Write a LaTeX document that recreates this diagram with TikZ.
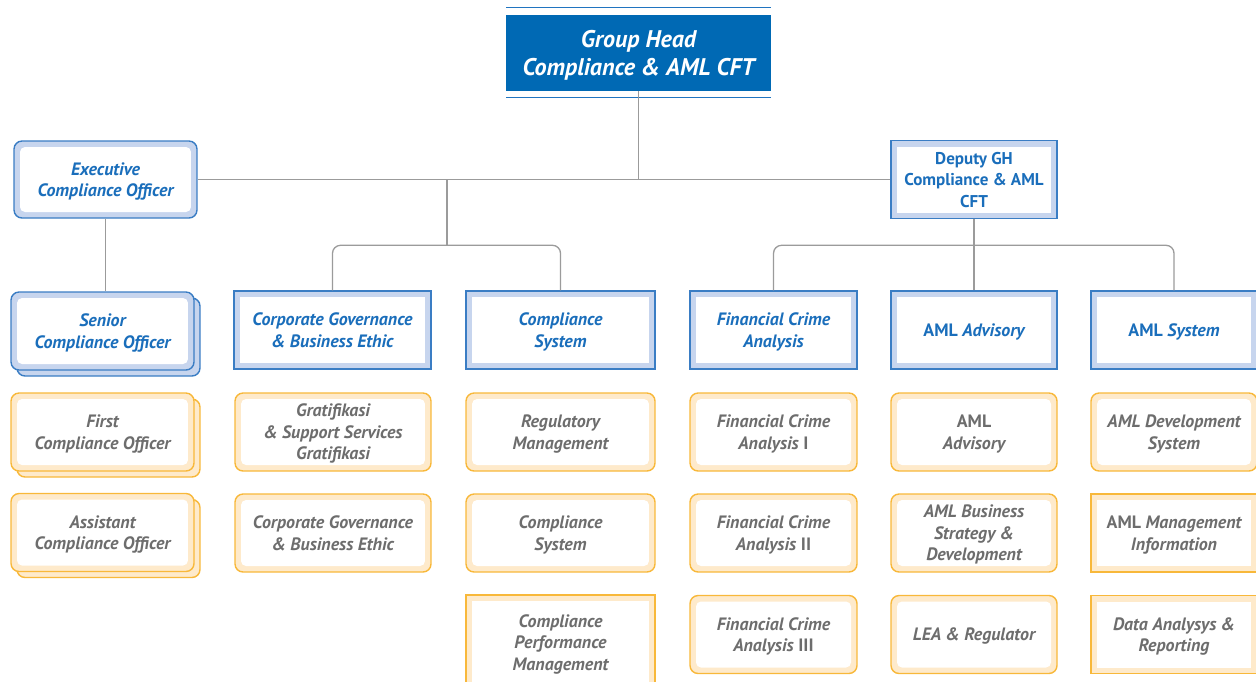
\documentclass[tikz,border=0pt]{standalone}
\usepackage{fontspec}
\setmainfont{PT Sans}
\usetikzlibrary{shadows}

\definecolor{ghblue}{HTML}{0069B4}
\definecolor{ghrule}{HTML}{2074C0}
\definecolor{unitblue}{HTML}{3A7DC4}
\definecolor{unitband}{HTML}{C7D5EE}
\definecolor{titleblue}{HTML}{1A6EBB}
\definecolor{secline}{HTML}{F8B83A}
\definecolor{secband}{HTML}{FEEACB}
\definecolor{sectext}{HTML}{6D6D6D}
\definecolor{linkgray}{HTML}{9B9B9B}

\newcommand\unitfont{\fontsize{10.2}{12.2}\selectfont\bfseries}

\tikzset{
  band/.style={line width=0.8pt, inner sep=0pt, align=center, text depth=-2pt,
    path picture={\fill[white,#1]
      ([shift={(0.12cm,-0.12cm)}]path picture bounding box.north west) rectangle
      ([shift={(-0.12cm,0.12cm)}]path picture bounding box.south east);}},
  bluesq/.style={band=sharp corners, draw=unitblue, fill=unitband,
    text=titleblue, font=\unitfont\itshape},
  bluerd/.style={band={rounded corners=0.1cm}, rounded corners=0.16cm,
    draw=unitblue, fill=unitband, text=titleblue, font=\unitfont\itshape},
  secsq/.style={band=sharp corners, draw=secline, fill=secband,
    text=sectext, font=\unitfont\itshape},
  secrd/.style={band={rounded corners=0.1cm}, rounded corners=0.16cm,
    draw=secline, fill=secband, text=sectext, font=\unitfont\itshape},
  stack/.style={copy shadow={shadow xshift=0.12cm, shadow yshift=-0.12cm}},
  link/.style={draw=linkgray, line width=0.75pt, rounded corners=0.16cm},
}

\begin{document}
\begin{tikzpicture}[x=0.02cm,y=-0.02cm]
  \clip (0,0) rectangle (1256,681);
  % group head
  \draw[ghrule, line width=1.1pt] (506,7.5) -- (771,7.5) (506,97.5) -- (771,97.5);
  \node[fill=ghblue, text=white, align=center, minimum width=5.3cm, minimum height=1.52cm,
    text depth=-0.8pt, font=\fontsize{13.7}{16}\selectfont\bfseries\itshape] (gh) at (638.5,53)
    {Group Head\\Compliance \& AML CFT};
  % second level
  \node[bluerd, minimum width=3.66cm, minimum height=1.54cm] (eco) at (105.5,179.5)
    {Executive\\Compliance Officer};
  \node[bluesq, font=\fontsize{9.7}{12.2}\selectfont\bfseries, text depth=-3pt,
    minimum width=3.32cm, minimum height=1.56cm] (dep) at (974,179.5)
    {Deputy GH\\Compliance \& AML\\CFT};
  % units
  \node[bluerd, stack, minimum width=3.66cm, minimum height=1.56cm] (sco) at (102.5,331)
    {Senior\\Compliance Officer};
  \node[bluesq, minimum width=3.94cm, minimum height=1.56cm] (cgb) at (332.5,330)
    {Corporate Governance\\\& Business Ethic};
  \node[bluesq, minimum width=3.78cm, minimum height=1.56cm] (csy) at (560.5,330)
    {Compliance\\System};
  \node[bluesq, minimum width=3.34cm, minimum height=1.56cm] (fca) at (773.5,330)
    {Financial Crime\\Analysis};
  \node[bluesq, minimum width=3.32cm, minimum height=1.56cm] (aad) at (974,330)
    {\textup{AML} Advisory};
  \node[bluesq, minimum width=3.32cm, minimum height=1.56cm] (ams) at (1174,330)
    {\textup{AML} System};
  % sections, column 1
  \node[secrd, stack, minimum width=3.66cm, minimum height=1.56cm] (fco) at (102.5,432)
    {First\\Compliance Officer};
  \node[secrd, stack, minimum width=3.66cm, minimum height=1.56cm] (aco) at (102.5,532.5)
    {Assistant\\Compliance Officer};
  % column 2
  \node[secrd, minimum width=3.92cm, minimum height=1.56cm] (grt) at (333,432)
    {Gratifikasi\\\& Support Services\\Gratifikasi};
  \node[secrd, minimum width=3.92cm, minimum height=1.56cm] (cge) at (333,533)
    {Corporate Governance\\\& Business Ethic};
  % column 3
  \node[secrd, minimum width=3.78cm, minimum height=1.56cm] (rgm) at (560.5,432)
    {Regulatory\\Management};
  \node[secrd, minimum width=3.78cm, minimum height=1.56cm] (csc) at (560.5,533)
    {Compliance\\System};
  \node[secsq, minimum width=3.78cm, minimum height=1.9cm] (cpm) at (560.5,642.5)
    {Compliance\\Performance\\Management};
  % column 4
  \node[secrd, minimum width=3.34cm, minimum height=1.56cm] (fc1) at (773.5,432)
    {Financial Crime\\Analysis \textup{I}};
  \node[secrd, minimum width=3.34cm, minimum height=1.56cm] (fc2) at (773.5,533)
    {Financial Crime\\Analysis \textup{II}};
  \node[secrd, minimum width=3.34cm, minimum height=1.56cm] (fc3) at (773.5,634.5)
    {Financial Crime\\Analysis \textup{III}};
  % column 5
  \node[secrd, minimum width=3.32cm, minimum height=1.56cm] (aas) at (974,432)
    {\textup{AML}\\Advisory};
  \node[secrd, minimum width=3.32cm, minimum height=1.56cm] (abs) at (974,533)
    {AML Business\\Strategy \&\\Development};
  \node[secrd, minimum width=3.32cm, minimum height=1.56cm] (lea) at (974,634.5)
    {LEA \& Regulator};
  % column 6
  \node[secrd, minimum width=3.32cm, minimum height=1.56cm] (ads) at (1174,432)
    {AML Development\\System};
  \node[secsq, minimum width=3.32cm, minimum height=1.56cm] (ami) at (1174,533)
    {\textup{AML} Management\\Information};
  \node[secsq, minimum width=3.32cm, minimum height=1.56cm] (dar) at (1174,634.5)
    {Data Analysys \&\\Reporting};
  % connectors
  \coordinate (tee) at (447,246);
  \draw[link] (gh.south) -- (gh.south |- eco.east);
  \draw[link] (eco.east) -- (dep.west);
  \draw[link] (eco.south) -- (eco.south |- sco.north);
  \draw[link] (tee |- eco.east) -- (tee);
  \draw[link] (cgb.north) -- ++(0,-45) -| (csy.north);
  \draw[link] (dep.south) -- (aad.north);
  \draw[link] (fca.north) -- ++(0,-45) -| (ams.north);
\end{tikzpicture}
\end{document}
